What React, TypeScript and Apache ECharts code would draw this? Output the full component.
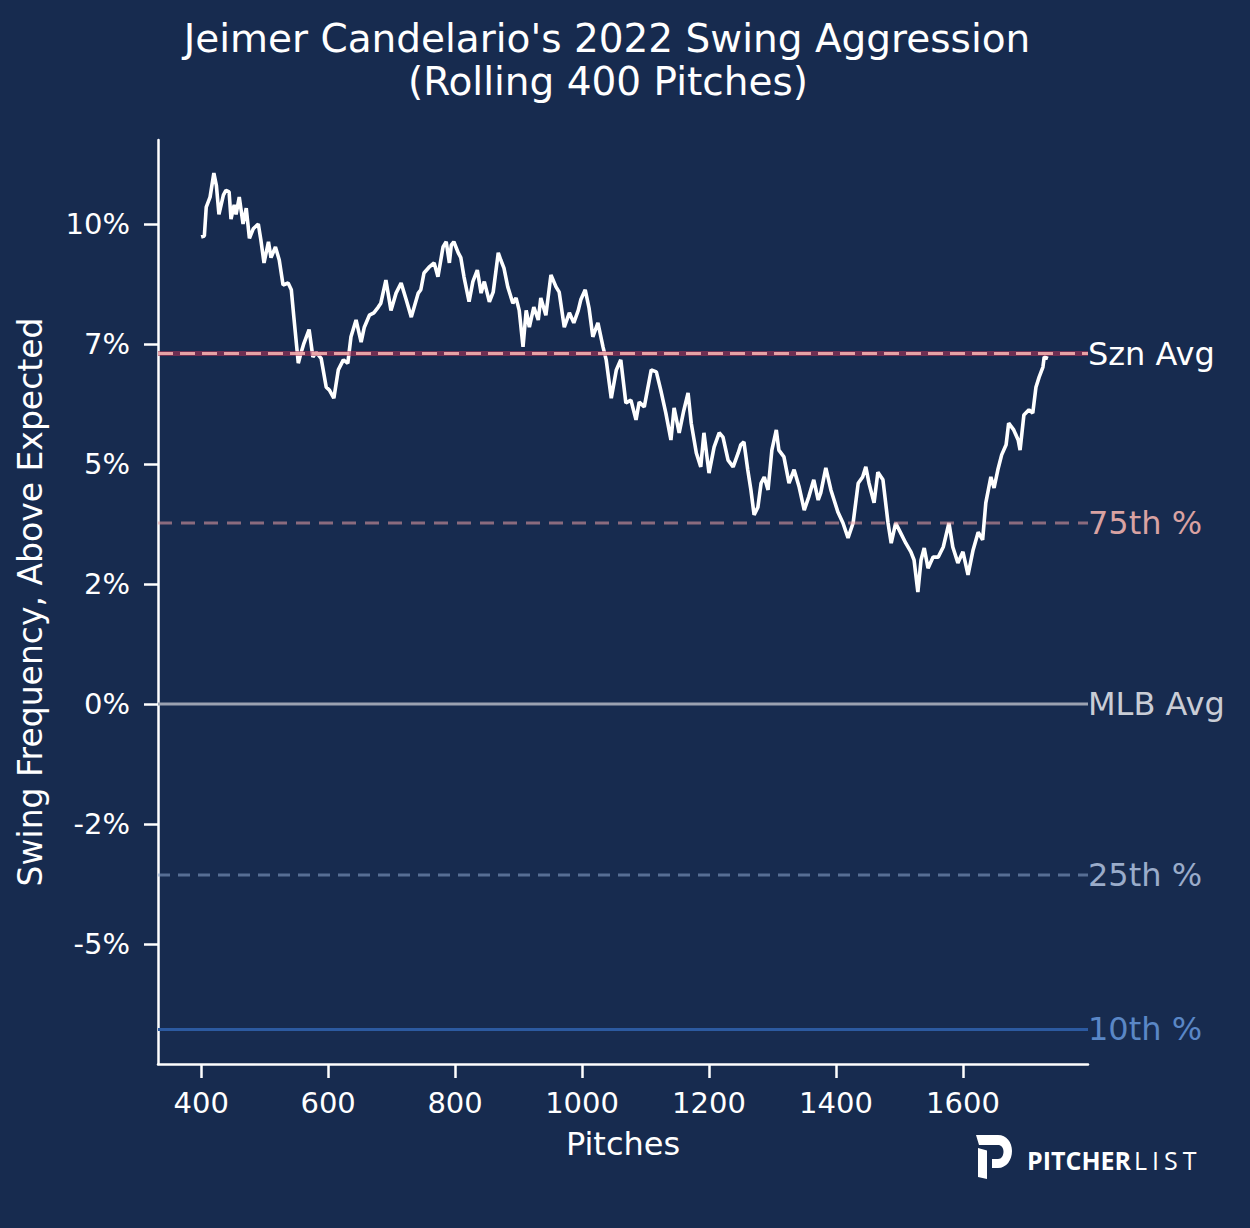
import React, { useEffect, useRef } from "react";
import * as echarts from "echarts";

// ---------- data ----------
const TITLE_LINES = ["Jeimer Candelario's 2022 Swing Aggression", "(Rolling 400 Pitches)"];
const X_NAME = "Pitches";
const Y_NAME = "Swing Frequency, Above Expected";
const X_MIN = 332;
const X_MAX = 1797;
const Y_MIN = -7.5;
const Y_MAX = 11.75;
const X_TICKS = [400, 600, 800, 1000, 1200, 1400, 1600];
const Y_TICKS = [-5, -2.5, 0, 2.5, 5, 7.5, 10];

// rolling swing frequency above expected (pitch #, %)
const ROLLING: [number, number][] = [
  [400, 9.73], [405, 9.75], [408, 10.35], [414, 10.56], [420, 11.06], [424, 10.8], [428, 10.2],
  [435, 10.6], [439, 10.7], [444, 10.67], [447, 10.1], [452, 10.4], [455, 10.2], [460, 10.56],
  [466, 10.0], [471, 10.33], [476, 9.7], [482, 9.9], [490, 10.0], [494, 9.67], [499, 9.19],
  [506, 9.63], [510, 9.3], [517, 9.52], [523, 9.25], [529, 8.73], [537, 8.77], [542, 8.63],
  [546, 8.06], [553, 7.1], [557, 7.3], [562, 7.52], [570, 7.8], [576, 7.23], [581, 7.33],
  [589, 7.2], [597, 6.6], [602, 6.54], [609, 6.37], [616, 6.96], [624, 7.17], [631, 7.1],
  [636, 7.65], [644, 8.0], [652, 7.54], [657, 7.85], [665, 8.1], [672, 8.15], [679, 8.27],
  [683, 8.35], [691, 8.83], [699, 8.2], [707, 8.56], [715, 8.77], [723, 8.42], [731, 8.06],
  [742, 8.56], [746, 8.63], [751, 8.98], [759, 9.1], [767, 9.19], [773, 8.9], [781, 9.52],
  [786, 9.63], [791, 9.19], [794, 9.56], [798, 9.63], [805, 9.4], [809, 9.3], [814, 8.9],
  [822, 8.38], [828, 8.8], [835, 9.04], [841, 8.56], [846, 8.8], [854, 8.38], [860, 8.58],
  [868, 9.4], [872, 9.25], [877, 9.08], [883, 8.69], [891, 8.35], [896, 8.46], [901, 8.2],
  [907, 7.44], [912, 8.2], [917, 7.85], [924, 8.27], [931, 8.0], [935, 8.46], [943, 8.1],
  [951, 8.94], [959, 8.69], [964, 8.58], [972, 7.85], [980, 8.15], [987, 7.94], [994, 8.2],
  [998, 8.42], [1005, 8.63], [1011, 8.25], [1017, 7.65], [1025, 7.94], [1033, 7.44],
  [1038, 7.17], [1046, 6.37], [1054, 6.96], [1061, 7.17], [1069, 6.27], [1077, 6.33],
  [1085, 5.92], [1090, 6.29], [1098, 6.19], [1109, 6.96], [1117, 6.92], [1124, 6.54],
  [1132, 6.06], [1140, 5.5], [1145, 6.17], [1153, 5.65], [1160, 6.1], [1167, 6.48],
  [1172, 5.85], [1180, 5.23], [1187, 4.94], [1192, 5.65], [1200, 4.81], [1208, 5.35],
  [1216, 5.65], [1222, 5.56], [1230, 5.08], [1238, 4.94], [1246, 5.23], [1250, 5.4],
  [1255, 5.46], [1261, 4.88], [1266, 4.46], [1271, 3.94], [1277, 4.1], [1282, 4.6],
  [1287, 4.73], [1293, 4.46], [1299, 5.29], [1306, 5.71], [1310, 5.29], [1318, 5.15],
  [1326, 4.6], [1334, 4.88], [1342, 4.52], [1350, 4.04], [1357, 4.31], [1365, 4.67],
  [1372, 4.25], [1376, 4.4], [1384, 4.92], [1392, 4.46], [1403, 4.0], [1411, 3.77],
  [1419, 3.46], [1427, 3.77], [1435, 4.6], [1442, 4.73], [1447, 4.94], [1452, 4.6],
  [1460, 4.19], [1466, 4.83], [1474, 4.67], [1482, 3.77], [1487, 3.35], [1494, 3.77],
  [1502, 3.56], [1510, 3.35], [1518, 3.17], [1523, 3.0], [1529, 2.33], [1534, 3.0],
  [1539, 3.25], [1545, 2.83], [1553, 3.06], [1561, 3.06], [1569, 3.27], [1578, 3.77],
  [1584, 3.27], [1592, 2.94], [1600, 3.17], [1608, 2.69], [1616, 3.21], [1624, 3.58],
  [1631, 3.42], [1636, 4.19], [1644, 4.73], [1649, 4.5], [1655, 4.88], [1661, 5.19],
  [1668, 5.4], [1672, 5.85], [1680, 5.71], [1687, 5.5], [1690, 5.29], [1696, 6.02],
  [1704, 6.13], [1710, 6.06], [1715, 6.6], [1720, 6.81], [1726, 7.02], [1728, 7.23],
  [1734, 7.2],
];

const REF_NAMES = ["Szn Avg", "75th %", "MLB Avg", "25th %", "10th %"];
const REF_VALUES = [7.3, 3.77, 0, -3.56, -6.78];

// ---------- styling ----------
const BG = "#172b4f";
const FONT = "DejaVu Sans";
const LOGO_PATH =
  "M0,0 L22,0 C30.5,0 36,7 36,16 C36,25 30.5,33 22,33 L16,33 L16,24 L22,24 C25.5,24 27.5,20.5 27.5,16.5 C27.5,12.5 25,10 22,10 L3,10 Z M2,13 L11,15.5 L11,44 L2,42 Z";

let registered = false;
function ensureLogo() {
  if (registered) return;
  registered = true;
  echarts.graphic.registerShape("plLogo", echarts.graphic.extendPath(LOGO_PATH, {}));
}

function refSeries(idx: number, lineStyle: any, labelColor: string, z: number) {
  return {
    type: "line",
    name: REF_NAMES[idx],
    data: [
      [X_MIN, REF_VALUES[idx]],
      [X_MAX, REF_VALUES[idx]],
    ],
    showSymbol: false,
    symbol: "none",
    silent: true,
    z,
    lineStyle,
    endLabel: {
      show: true,
      formatter: REF_NAMES[idx],
      color: labelColor,
      fontSize: 32,
      fontFamily: FONT,
      distance: 0,
    },
  };
}

export default function App() {
  const ref = useRef<HTMLDivElement>(null);

  useEffect(() => {
    document.body.style.margin = "0";
    document.body.style.background = BG;
    ensureLogo();
    const chart = echarts.init(ref.current!, null, { renderer: "svg" });

    const axisCommon = {
      axisLine: { show: true, onZero: false, lineStyle: { color: "#ffffff", width: 2.5 } },
      splitLine: { show: false },
      nameLocation: "middle",
    };

    const logoLetter = {
      fill: "#ffffff",
      color: "#ffffff",
      fontSize: 25,
      fontWeight: "normal",
      fontFamily: "Open Sans",
      padding: [0, 5, 0, 0],
    };

    const option: any = {
      animation: false,
      backgroundColor: BG,
      textStyle: { fontFamily: FONT },
      grid: { left: 158, right: 162, top: 140, bottom: 164 },
      xAxis: {
        type: "value",
        min: X_MIN,
        max: X_MAX,
        name: X_NAME,
        nameGap: 64,
        nameTextStyle: { color: "#ffffff", fontSize: 32, fontFamily: FONT },
        ...axisCommon,
        axisTick: {
          show: true,
          customValues: X_TICKS,
          length: 14,
          lineStyle: { color: "#ffffff", width: 2.5 },
        },
        axisLabel: {
          customValues: X_TICKS,
          color: "#ffffff",
          fontSize: 29,
          fontFamily: FONT,
          margin: 24,
          formatter: (v: number) => String(v),
        },
      },
      yAxis: {
        type: "value",
        min: Y_MIN,
        max: Y_MAX,
        name: Y_NAME,
        nameGap: 111,
        nameTextStyle: { color: "#ffffff", fontSize: 33, fontFamily: FONT },
        ...axisCommon,
        axisTick: {
          show: true,
          customValues: Y_TICKS,
          length: 14,
          lineStyle: { color: "#ffffff", width: 2.5 },
        },
        axisLabel: {
          customValues: Y_TICKS,
          color: "#ffffff",
          fontSize: 29,
          fontFamily: FONT,
          margin: 28,
          formatter: (v: number) => Math.trunc(v) + "%",
        },
      },
      graphic: [
        {
          type: "text",
          x: 607,
          y: 38,
          style: {
            text: TITLE_LINES[0],
            fill: "#ffffff",
            fontSize: 39,
            fontFamily: FONT,
            textAlign: "center",
            textVerticalAlign: "middle",
          },
        },
        {
          type: "text",
          x: 608,
          y: 81,
          style: {
            text: TITLE_LINES[1],
            fill: "#ffffff",
            fontSize: 39,
            fontFamily: FONT,
            textAlign: "center",
            textVerticalAlign: "middle",
          },
        },
        {
          type: "plLogo",
          x: 976,
          y: 1135,
          style: { fill: "#ffffff" },
        },
        {
          type: "text",
          x: 1027,
          y: 1160,
          style: {
            text: "{b|PITCHER}{l|L}{l|I}{l|S}{t|T}",
            textVerticalAlign: "middle",
            rich: {
              b: {
                fill: "#ffffff",
                color: "#ffffff",
                fontSize: 25,
                fontWeight: "bold",
                fontFamily: "Open Sans",
                padding: [0, 3, 0, 0],
              },
              l: logoLetter,
              t: { ...logoLetter, padding: 0 },
            },
          },
        },
      ],
      series: [
        {
          type: "line",
          name: "Rolling",
          data: ROLLING,
          showSymbol: false,
          symbol: "none",
          z: 2,
          lineStyle: { color: "#ffffff", width: 3.6 },
        },
        refSeries(2, { color: "#9ba2b1", width: 3 }, "#c9cdd6", 3),
        refSeries(4, { color: "#2c5aa0", width: 3 }, "#5a87c6", 3),
        refSeries(3, { color: "rgba(140,165,205,0.55)", width: 3, type: [12, 8] }, "#9aacca", 3),
        refSeries(1, { color: "rgba(235,160,165,0.55)", width: 3, type: [14, 9] }, "#d9a2a2", 3),
        {
          type: "line",
          data: [
            [X_MIN, REF_VALUES[0]],
            [X_MAX, REF_VALUES[0]],
          ],
          showSymbol: false,
          symbol: "none",
          silent: true,
          z: 3,
          lineStyle: { color: "rgba(170,50,85,0.6)", width: 5 },
        },
        refSeries(0, { color: "rgba(240,172,172,0.92)", width: 3, type: [15, 7] }, "#ffffff", 4),
      ],
    };

    chart.setOption(option);
    return () => chart.dispose();
  }, []);

  return (
    <div
      ref={ref}
      style={{ position: "fixed", left: 0, top: 0, width: 1250, height: 1228 }}
    />
  );
}
